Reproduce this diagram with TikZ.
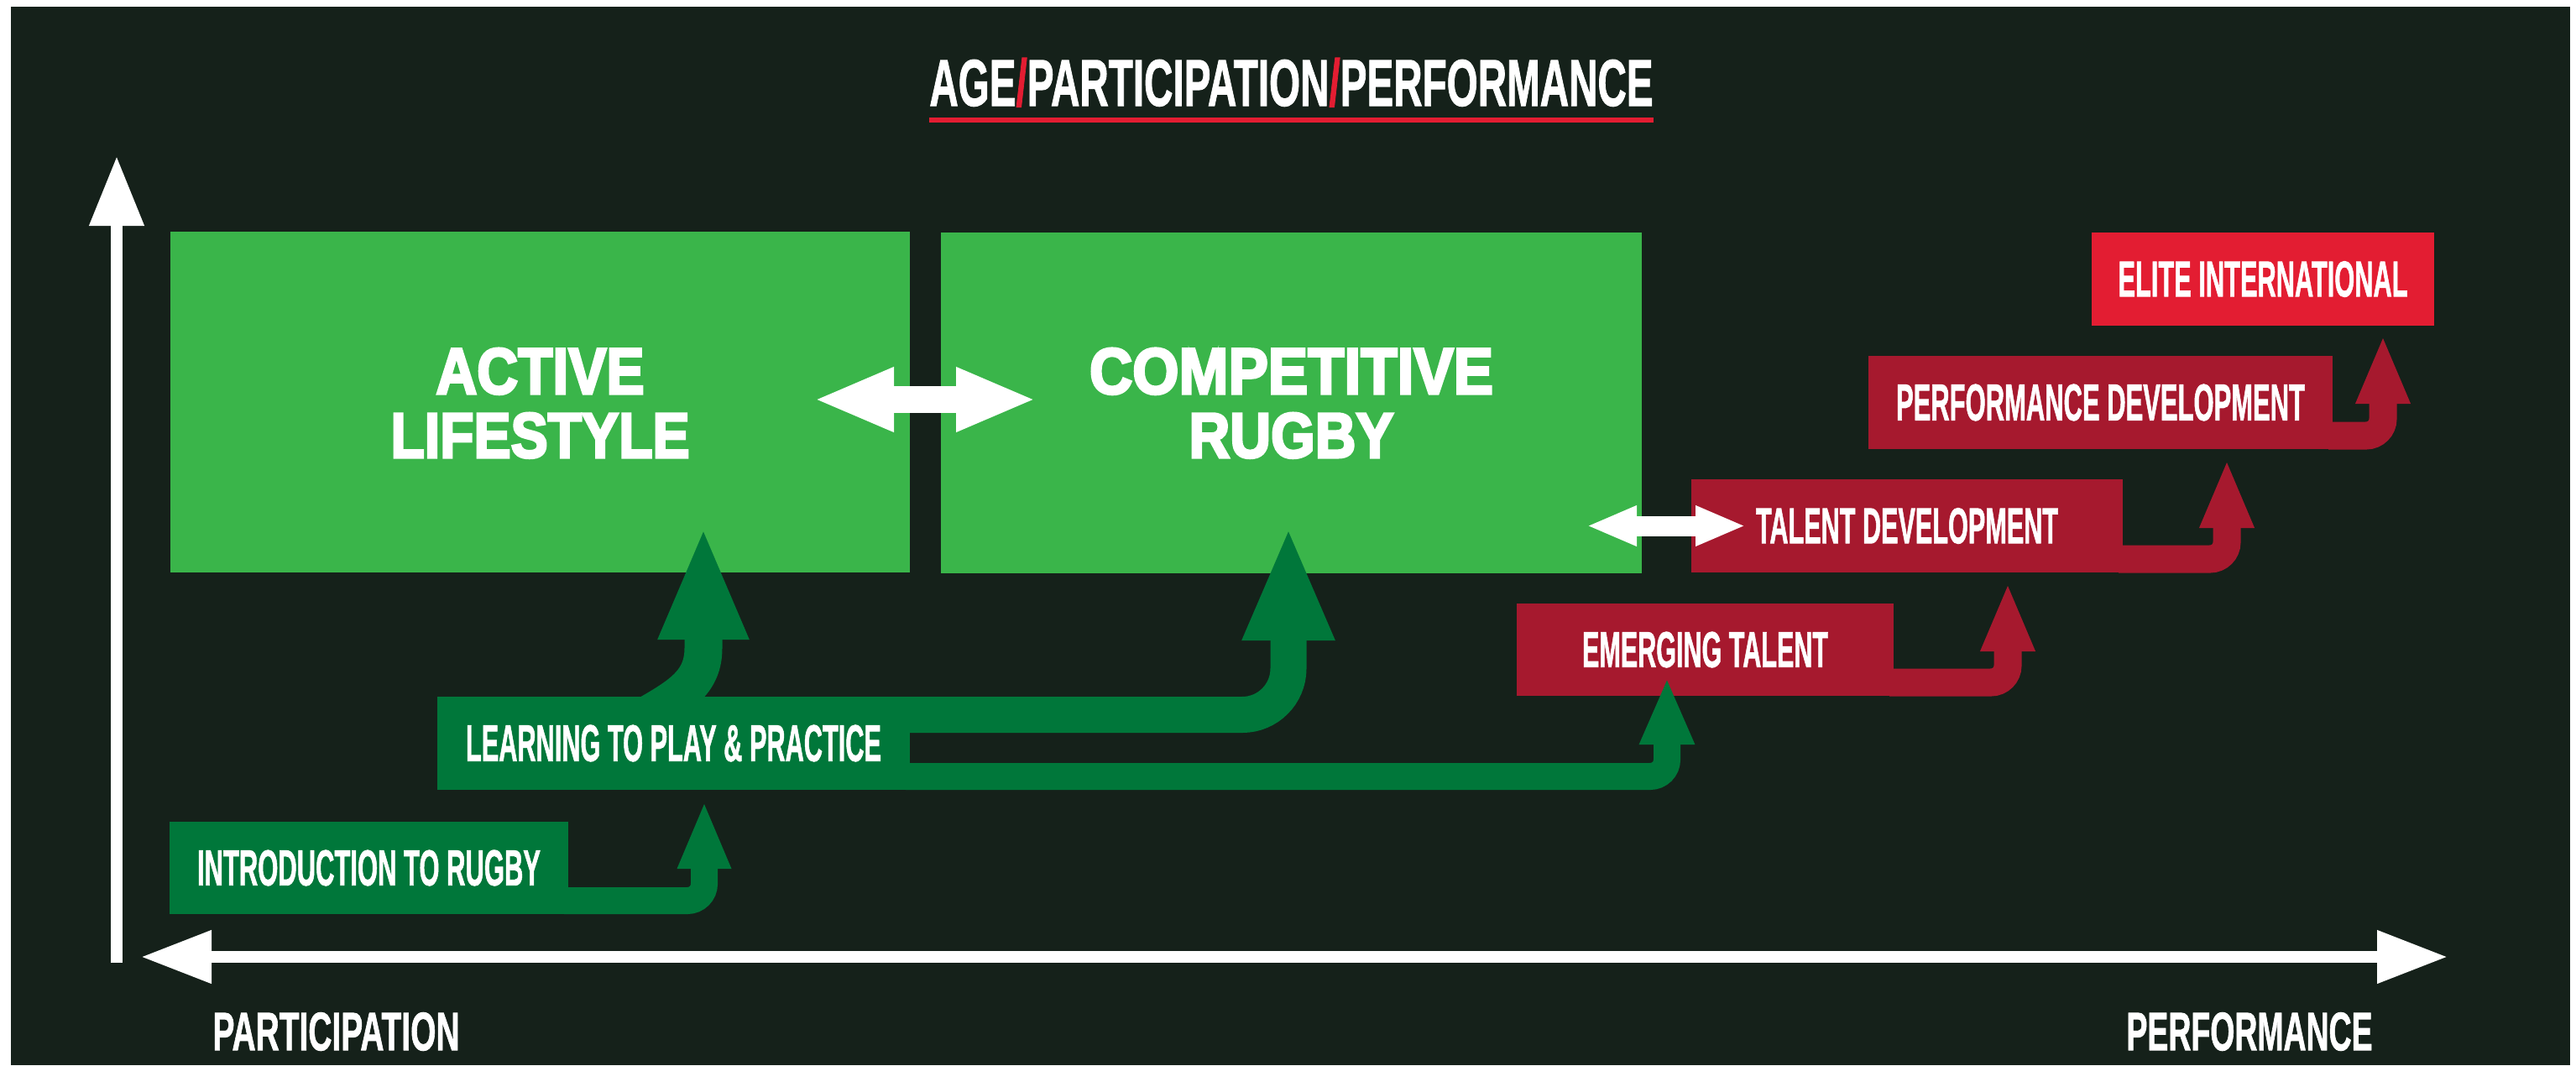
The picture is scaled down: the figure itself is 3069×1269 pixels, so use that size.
\documentclass[tikz,border=0pt]{standalone}
\usepackage{fontspec}
\usepackage{graphicx}
\setmainfont{Liberation Sans}
\newfontfamily\labfont[FakeBold=1.5]{Liberation Sans}
\newfontfamily\heavyfont[FakeBold=4]{Liberation Sans}
\usetikzlibrary{arrows.meta}

\definecolor{pagebg}{HTML}{15211A}
\definecolor{lightgreen}{HTML}{3AB54A}
\definecolor{darkgreen}{HTML}{00773A}
\definecolor{deepred}{HTML}{A6192E}
\definecolor{brightred}{HTML}{E31D32}

% scale a piece of text to a width and cap height (in pt)
\newcommand{\fitto}[3]{\resizebox{#1pt}{#2pt}{#3}}

\begin{document}
\begin{tikzpicture}[x=1pt,y=-1pt,
  box/.style 2 args={inner sep=0pt, outer sep=0pt, minimum width=#1pt, minimum height=#2pt},
  bigbox/.style={fill=lightgreen},
  greenbox/.style={fill=darkgreen},
  redbox/.style={fill=deepred},
  topbox/.style={fill=brightred},
  label/.style={inner sep=0pt, outer sep=0pt, text=white, font=\labfont\bfseries},
  biglabel/.style={inner sep=0pt, outer sep=0pt, anchor=base, text=white, font=\heavyfont\bfseries},
  gpath/.style={draw=darkgreen, line width=#1},
  rpath/.style={draw=deepred, line width=33pt, rounded corners=20pt,
    -{Triangle[length=82pt,width=59pt]}},
  twoway/.style={draw=white, line width=#1}
]
% page and dark panel
\useasboundingbox (0,0) rectangle (3069,1269);
\fill[white] (0,0) rectangle (3069,1269);
\fill[pagebg] (13,8) rectangle (3062,1269);

% heading
\node[label, anchor=base] (title) at (1538.5,126)
  {\fitto{862}{57}{AGE\textcolor{brightred}{/}PARTICIPATION\textcolor{brightred}{/}PERFORMANCE}};
\fill[brightred] ([yshift=-14pt]title.base west) rectangle ([yshift=-20pt]title.base east);

% axes
\coordinate (origin) at (139,1147);
\coordinate (ytop) at (139,186);
\coordinate (xleft) at (168,1140);
\coordinate (xright) at (2916,1140);
\draw[white, line width=14pt, -{Triangle[length=83pt,width=62pt]}] (origin) -- (ytop);
\draw[white, line width=14pt, {Triangle[length=84pt,width=60pt]}-{Triangle[length=84pt,width=60pt]}] (xleft) -- (xright);
\node[label] (partlab) at (400.5,1229) {\fitto{294}{45}{PARTICIPATION}};
\node[label] (perflab) at (2680,1229) {\fitto{293}{45}{PERFORMANCE}};

% the two broad areas
\node[box={881}{406}, bigbox] (active) at (643.5,479) {};
\node[box={835}{406}, bigbox] (competitive) at (1538.5,480) {};

% pathway stages
\node[box={475}{110}, greenbox] (intro) at (439.5,1034) {};
\node[box={563}{111}, greenbox] (ltp) at (802.5,885.5) {};
\node[box={449}{110}, redbox] (emerging) at (2031.5,774) {};
\node[box={514}{111}, redbox] (talent) at (2272,626.5) {};
\node[box={553}{111}, redbox] (perfdev) at (2502.5,479.5) {};
\node[box={408}{111}, topbox] (elite) at (2696,332.5) {};

% arrow tips
\coordinate (tipA) at (838,627);
\coordinate (tipB) at (1535,627);
\coordinate (tipC) at (1986,807);
\coordinate (tipD) at (839,954);
\coordinate (tipE) at (2392,694);
\coordinate (tipF) at (2653,547);
\coordinate (tipG) at (2839,399);

% green progressions
\draw[gpath=32pt, rounded corners=20pt, -{Triangle[length=81pt,width=58pt]}]
  ([xshift=-5pt,yshift=16pt]intro.south east) -| (tipD);
\draw[gpath=32pt, rounded corners=20pt, -{Triangle[length=80pt,width=60pt]}]
  ([xshift=-5pt,yshift=16pt]ltp.south east) -| (tipC);
\draw[gpath=43pt, rounded corners=55pt, -{Triangle[length=136pt,width=100pt]}]
  ([xshift=-5pt,yshift=-21.5pt]ltp.north east) -| (tipB);
\draw[gpath=45pt, -{Triangle[length=135pt,width=98pt]}]
  ([xshift=-32pt,yshift=-22pt]ltp.north) .. controls (812,828) and (838,812) .. (838,772) -- (tipA);

% red progressions
\draw[rpath] ([xshift=-5pt,yshift=16pt]emerging.south east) -| (tipE);
\draw[rpath] ([xshift=-5pt,yshift=16pt]talent.south east) -| (tipF);
\draw[rpath] ([xshift=-5pt,yshift=16pt]perfdev.south east) -| (tipG);

% two-way links
\draw[twoway=32pt, {Triangle[length=96pt,width=70pt]}-{Triangle[length=96pt,width=70pt]}]
  ([xshift=-115pt,yshift=3pt]active.east) -- ([xshift=114pt,yshift=4pt]competitive.west);
\path (competitive.east |- talent.west) coordinate (cmid);
\draw[twoway=24pt, {Triangle[length=60pt,width=44pt]}-{Triangle[length=60pt,width=44pt]}]
  ([xshift=-66pt]cmid) -- ([xshift=65pt]talent.west);

% box texts
\node[biglabel] (active1) at (643.5,469) {\fitto{248}{54}{ACTIVE}};
\node[biglabel] (active2) at (643.5,545) {\fitto{356}{53}{LIFESTYLE}};
\node[biglabel] (compet1) at (1538.5,469) {\fitto{481}{54}{COMPETITIVE}};
\node[biglabel] (compet2) at (1538.5,545) {\fitto{244}{53}{RUGBY}};
\node[label] (introtext) at (intro) {\fitto{409}{42}{INTRODUCTION TO RUGBY}};
\node[label] (ltptext) at (ltp) {\fitto{495}{43}{LEARNING TO PLAY \& PRACTICE}};
\node[label] (emergingtext) at (emerging) {\fitto{293}{42}{EMERGING TALENT}};
\node[label] (talenttext) at (talent) {\fitto{360}{42}{TALENT DEVELOPMENT}};
\node[label] (perfdevtext) at (perfdev) {\fitto{487}{43}{PERFORMANCE DEVELOPMENT}};
\node[label] (elitetext) at (elite) {\fitto{345}{42}{ELITE INTERNATIONAL}};
\end{tikzpicture}
\end{document}
